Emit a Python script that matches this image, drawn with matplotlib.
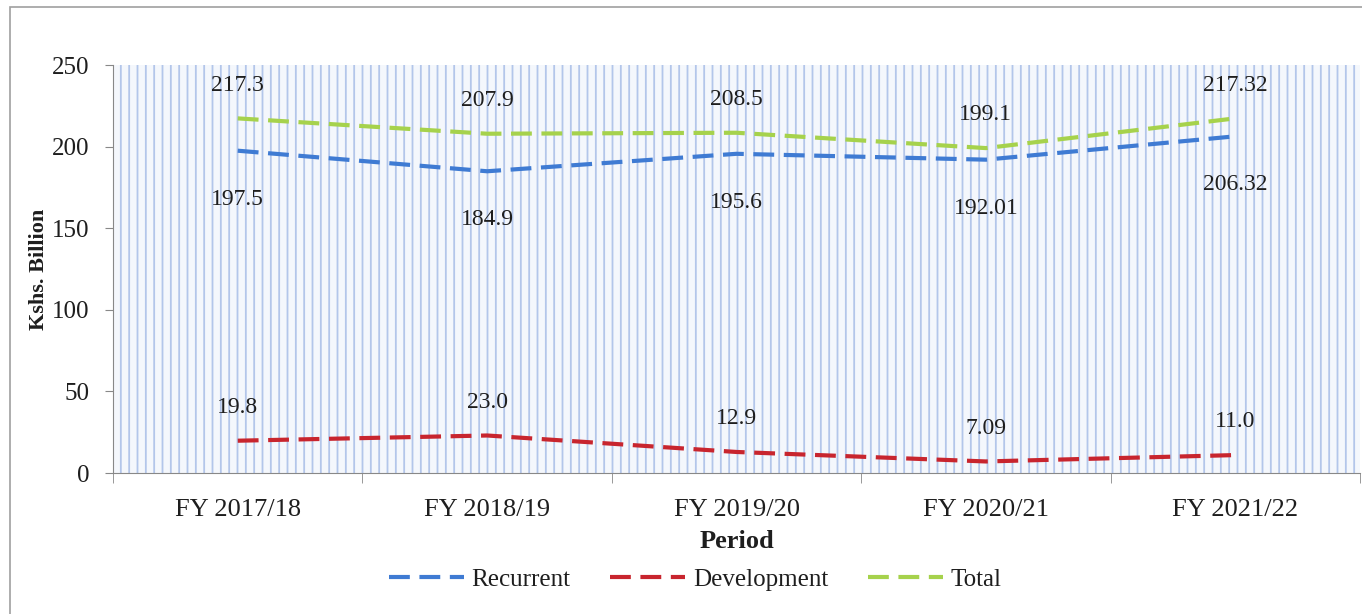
import numpy as np
import matplotlib.pyplot as plt
from matplotlib.patches import Rectangle

plt.rcParams['font.family'] = ['Liberation Serif', 'DejaVu Serif']
plt.rcParams['hatch.linewidth'] = 1.3

# data
periods = ['FY 2017/18', 'FY 2018/19', 'FY 2019/20', 'FY 2020/21', 'FY 2021/22']
recurrent = [197.5, 184.9, 195.6, 192.01, 206.32]
development = [19.8, 23.0, 12.9, 7.09, 11.0]
total = [217.3, 207.9, 208.5, 199.1, 217.32]
recurrent_lbl = ['197.5', '184.9', '195.6', '192.01', '206.32']
development_lbl = ['19.8', '23.0', '12.9', '7.09', '11.0']
total_lbl = ['217.3', '207.9', '208.5', '199.1', '217.32']

txt = '#1e1e1e'

fig = plt.figure(figsize=(13.62, 6.14), dpi=100)
ax = fig.add_axes([0.083, 0.2296, 0.9155, 0.6645])

# frame round the whole chart
fig.patches.append(Rectangle((0.007, -0.01), 1.0, 0.998, transform=fig.transFigure,
                             fill=False, edgecolor='#a0a0a0', lw=1.2))

# hatched plot area
ax.add_patch(Rectangle((0, 0), 1, 1, transform=ax.transAxes, facecolor='#f4f7fc',
                       edgecolor='#b3c6ea', hatch='||', lw=0, zorder=0))

x = np.arange(len(periods))
dash = (0, (5, 2.3))
ax.plot(x, recurrent, color='#3f7bd3', lw=3, ls=dash, label='Recurrent', zorder=3)
ax.plot(x, development, color='#c8252e', lw=3, ls=dash, label='Development', zorder=3)
ax.plot(x, total, color='#a6d24c', lw=3, ls=dash, label='Total', zorder=3)

for i in range(len(periods)):
    ax.annotate(total_lbl[i], (x[i], total[i]), xytext=(0, 24), textcoords='offset points',
                ha='center', va='center', fontsize=17, color=txt)
    ax.annotate(recurrent_lbl[i], (x[i], recurrent[i]), xytext=(0, -35), textcoords='offset points',
                ha='center', va='center', fontsize=17, color=txt)
    ax.annotate(development_lbl[i], (x[i], development[i]), xytext=(0, 24), textcoords='offset points',
                ha='center', va='center', fontsize=17, color=txt)

ax.set_xlim(-0.5, len(periods) - 0.5)
ax.set_ylim(0, 250)
ax.set_yticks(np.arange(0, 251, 50))
ax.set_xticks(x)
ax.set_xticklabels(periods)
ax.set_xticks(np.arange(-0.5, len(periods), 1), minor=True)
ax.tick_params(axis='x', which='major', length=0, pad=19, labelsize=19, labelcolor=txt)
ax.tick_params(axis='x', which='minor', length=7, color='#888888')
ax.tick_params(axis='y', length=6, color='#888888', pad=11, labelsize=18, labelcolor=txt)

for s in ['top', 'right']:
    ax.spines[s].set_visible(False)
ax.spines['left'].set_color('#888888')
ax.spines['bottom'].set_color('#888888')

ax.set_xlabel('Period', fontsize=19, fontweight='bold', labelpad=6, color=txt)
ax.set_ylabel('Kshs. Billion', fontsize=16, fontweight='bold', labelpad=2, color=txt)

ax.legend(loc='upper center', bbox_to_anchor=(0.467, -0.178), ncol=3, frameon=False,
          fontsize=18, handlelength=3.0, columnspacing=1.6, handletextpad=0.3,
          labelcolor=txt)

fig.savefig('out.png', dpi=100)
